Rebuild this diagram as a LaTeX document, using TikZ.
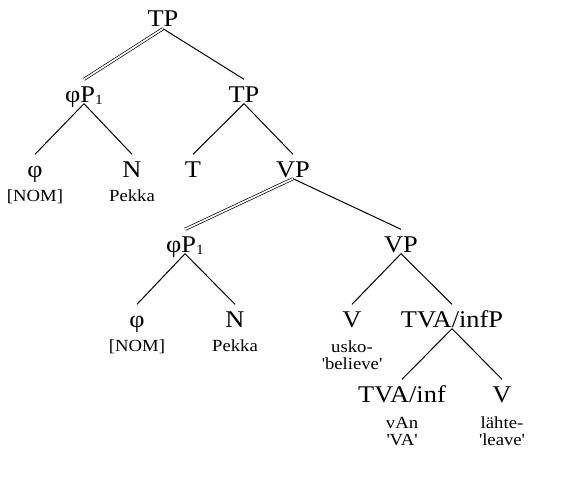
\documentclass[tikz,border=0pt]{standalone}
\usepackage{fontspec}
\setmainfont{Liberation Serif}[FakeStretch=1.1]
\usetikzlibrary{positioning}
\newcommand{\catsize}{\fontsize{24}{26}\selectfont}
\newcommand{\glosssize}{\fontsize{17}{17}\selectfont}
\newcommand{\idx}[1]{\raisebox{-2pt}{\fontsize{14}{14}\selectfont #1}}

\begin{document}
\begin{tikzpicture}[
    x=1pt, y=-1pt,
    cat/.style={anchor=base, font=\catsize, inner sep=1.5pt, text height=21pt, text depth=0pt},
    gloss/.style={anchor=base, font=\glosssize, align=center, inner sep=0pt},
    branch/.style={line width=1pt},
    movedbranch/.style={double, double distance=1.7pt, line width=0.7pt}
]
\useasboundingbox (0,0) rectangle (588,495);

% Upper tree
\node (tp) [cat] at (163,27) {TP};
\node (phipA) [cat] at (84,102) {φP\idx{1}};
\node (tpB) [cat] at (244,102) {TP};
\node (phiA) [cat] at (35,177) {φ};
\node (nA) [cat] at (132,177) {N};
\node (t) [cat] at (193,177) {T};
\node (vpA) [cat] at (293,177) {VP};

% Lower tree
\node (phipB) [cat] at (185,252) {φP\idx{1}};
\node (vpB) [cat] at (401,252) {VP};
\node (phiB) [cat] at (137,327) {φ};
\node (nB) [cat] at (235,327) {N};
\node (verbA) [cat] at (352,327) {V};
\node (tvap) [cat] at (452,327) {TVA/infP};
\node (tva) [cat] at (402,402) {TVA/inf};
\node (verbB) [cat] at (502,402) {V};

% Glosses (base anchor sits on the last line)
\node (nomA) [gloss] at (35,201) {[NOM]};
\node (pekkaA) [gloss] at (132,201) {Pekka};
\node (nomB) [gloss] at (137,351) {[NOM]};
\node (pekkaB) [gloss] at (235,351) {Pekka};
\node (usko) [gloss] at (352,369) {usko-\\\textquotesingle believe\textquotesingle};
\node (van) [gloss] at (402,445) {vAn\\\textquotesingle VA\textquotesingle};
\node (lahte) [gloss] at (502,445) {lähte-\\\textquotesingle leave\textquotesingle};

% Branches
\draw [movedbranch] (tp.south) -- (phipA.north);
\draw [branch] (tp.south) -- (tpB.north);
\foreach \child in {phiA, nA} {
    \draw [branch] (phipA.south) -- (\child.north);
}
\foreach \child in {t, vpA} {
    \draw [branch] (tpB.south) -- (\child.north);
}
\draw [movedbranch] (vpA.south) -- (phipB.north);
\draw [branch] (vpA.south) -- (vpB.north);
\foreach \child in {phiB, nB} {
    \draw [branch] (phipB.south) -- (\child.north);
}
\foreach \child in {verbA, tvap} {
    \draw [branch] (vpB.south) -- (\child.north);
}
\foreach \child in {tva, verbB} {
    \draw [branch] (tvap.south) -- (\child.north);
}

\end{tikzpicture}
\end{document}
